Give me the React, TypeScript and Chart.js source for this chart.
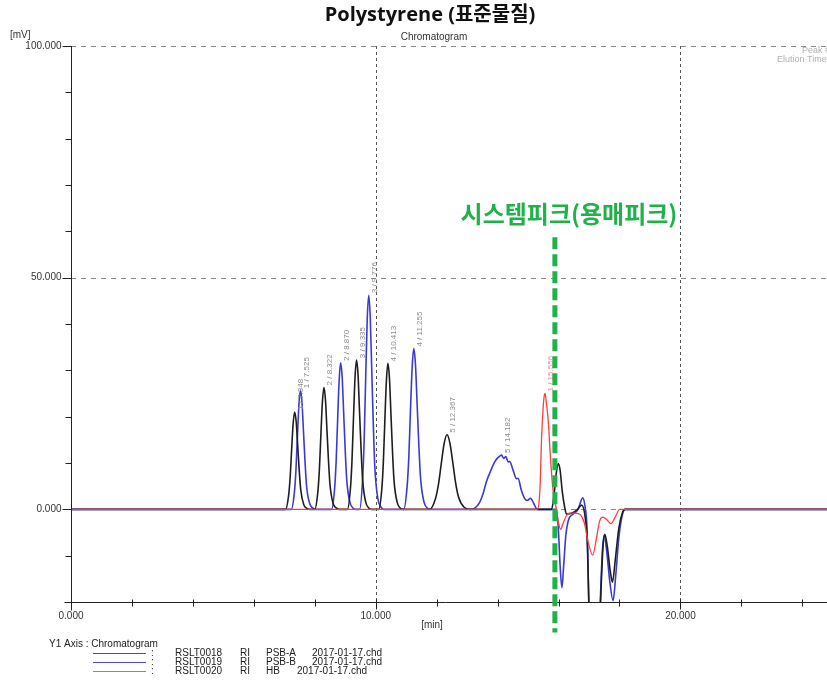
import { useEffect, useRef } from 'react';
import { Chart, registerables } from 'chart.js';

Chart.register(...registerables);

const W = 827;
const H = 681;

// PSB-A (RSLT0018) – black trace
const psbATimes = [
  0, 7.04, 7.14, 7.19, 7.24, 7.29, 7.34, 7.39, 7.44, 7.49, 7.54, 7.64, 7.74, 7.84,
  8.0, 8.1, 8.15, 8.2, 8.25, 8.3, 8.35, 8.4, 8.45, 8.5, 8.6, 8.7, 8.8,
  9.07, 9.17, 9.22, 9.27, 9.32, 9.37, 9.42, 9.47, 9.52, 9.57, 9.67, 9.77, 9.87,
  10.1, 10.2, 10.25, 10.3, 10.35, 10.4, 10.45, 10.5, 10.55, 10.6, 10.7, 10.8, 10.9,
  11.77, 11.96, 12.055, 12.15, 12.245, 12.34, 12.435, 12.53, 12.625, 12.72, 12.91, 13.1,
  15.77, 15.85, 15.92, 15.99, 16.05, 16.12, 16.2, 16.26, 16.45, 16.62, 16.76, 16.88,
  16.95, 17.0, 17.16, 17.3, 17.39, 17.46, 17.52, 17.6, 17.7, 17.77, 17.86, 17.98, 18.1, 18.18, 24.81,
];
const psbAValues = [
  0, 0, 2.9, 6.7, 12.8, 18.5, 21.0, 18.9, 13.7, 8.4, 4.2, 1.0, 0.2, 0,
  0, 3.7, 8.4, 16.0, 23.1, 26.3, 23.7, 17.1, 10.5, 5.3, 1.3, 0.3, 0,
  0, 4.5, 10.3, 19.6, 28.3, 32.2, 29.0, 20.9, 12.9, 6.4, 1.6, 0.3, 0,
  0, 4.4, 10.1, 19.2, 27.7, 31.5, 28.4, 20.5, 12.6, 6.3, 1.6, 0.3, 0,
  0, 2.3, 5.2, 9.8, 14.2, 16.1, 14.3, 10.1, 5.6, 2.6, 0.4, 0,
  0, 3.0, 7.5, 9.9, 8.5, 4.0, 0.5, -1.0, -0.8, 0, 0.9, -2.0,
  -8.0, -22.0, -45.0, -35.0, -18.0, -8.0, -5.4, -8.0, -13.5, -15.7, -11.0, -4.0, -0.7, 0, 0,
];

// PSB-B (RSLT0019) – blue trace
const psbBTimes = [
  0, 7.23, 7.33, 7.38, 7.43, 7.48, 7.53, 7.58, 7.63, 7.68, 7.73, 7.83, 7.93, 8.03,
  8.55, 8.65, 8.7, 8.75, 8.8, 8.85, 8.9, 8.95, 9.0, 9.05, 9.15, 9.25, 9.35,
  9.47, 9.57, 9.62, 9.67, 9.72, 9.77, 9.82, 9.87, 9.92, 9.97, 10.07, 10.17, 10.27,
  10.92, 11.03, 11.085, 11.14, 11.195, 11.25, 11.305, 11.36, 11.415, 11.47, 11.58, 11.69, 11.8,
  13.1, 13.2, 13.31, 13.42, 13.53, 13.63, 13.74, 13.85, 13.95, 14.02, 14.13, 14.2, 14.27,
  14.35, 14.4, 14.51, 14.62, 14.67, 14.78, 14.89, 14.97, 15.08, 15.19, 15.3,
  15.93, 16.0, 16.05, 16.11, 16.17, 16.24, 16.32, 16.48, 16.64, 16.72, 16.79, 16.86, 16.94,
  17.0, 17.17, 17.3, 17.37, 17.44, 17.5, 17.58, 17.68, 17.79, 17.88, 17.98, 18.1, 18.18, 24.81,
];
const psbBValues = [
  0, 0, 3.6, 8.2, 15.7, 22.6, 25.7, 23.1, 16.7, 10.3, 5.1, 1.3, 0.3, 0,
  0, 4.4, 10.1, 19.3, 27.8, 31.6, 28.4, 20.5, 12.6, 6.3, 1.6, 0.3, 0,
  0, 6.5, 14.8, 28.2, 40.7, 46.2, 41.6, 30.0, 18.5, 9.2, 2.3, 0.5, 0,
  0, 4.9, 11.1, 21.2, 30.5, 34.7, 31.2, 22.6, 13.9, 6.9, 1.7, 0.3, 0,
  0, 0.1, 0.6, 1.6, 3.5, 5.9, 7.8, 9.5, 10.7, 11.2, 11.7, 11.0, 11.4,
  10.2, 10.3, 8.4, 6.6, 6.7, 4.1, 2.3, 1.9, 2.4, 1.2, 0,
  0, -5.0, -12.0, -16.9, -12.0, -5.5, -2.4, -1.0, 0, 1.5, 2.5, 1.0, -5.0,
  -22.0, -48.0, -35.0, -20.0, -9.0, -5.6, -9.0, -15.5, -19.7, -14.0, -6.0, -1.0, 0, 0,
];

// HB (RSLT0020) – red trace
const hbTimes = [
  0, 15.3, 15.36, 15.4, 15.44, 15.49, 15.53, 15.56, 15.6, 15.66, 15.74, 15.82, 15.93,
  16.0, 16.07, 16.15, 16.25, 16.35, 16.55, 16.72, 16.85, 16.97, 17.12, 17.25, 17.35,
  17.45, 17.58, 17.72, 17.85, 18.01, 24.81,
];
const hbValues = [
  0, 0, 1.5, 6.0, 15.0, 21.5, 24.5, 25.0, 23.0, 19.2, 10.6, 4.1, 0,
  -3.0, -4.3, -3.0, -1.5, -0.8, -0.8, -1.2, -3.0, -7.0, -9.9, -6.0, -2.5,
  -1.7, -2.2, -3.1, -1.8, 0, 0,
];

// axis ticks
const xMajorTicks = [0, 10, 20];
const xMinorTicks = [2, 4, 6, 8, 12, 14, 16, 18, 22, 24];
const yMajorTicks = [100, 50, 0];
const yMinorTicks = [90, 80, 70, 60, 40, 30, 20, 10, -10];
const xMin = 0;
const xMax = 24.81;
const yMin = -20;
const yMax = 100;

// peak annotations
const peakLabelTexts = [
  '1 / 7.348', '1 / 7.525', '2 / 8.322', '2 / 8.870', '3 / 9.335', '3 / 9.776',
  '4 / 10.413', '4 / 11.255', '5 / 12.367', '5 / 14.182', '1 / 15.556',
];
const peakLabelTimes = [7.34, 7.53, 8.3, 8.85, 9.37, 9.77, 10.4, 11.25, 12.34, 14.13, 15.56];
const peakLabelHeights = [21.0, 25.7, 26.3, 31.6, 32.2, 46.2, 31.5, 34.7, 16.1, 11.7, 25.0];
const peakLabelSeries = [0, 1, 0, 1, 0, 1, 0, 1, 0, 1, 2];

const systemPeakTime = 15.88;
const systemPeakText = '시스템피크(용매피크)';

const legendNames = ['RSLT0018', 'RSLT0019', 'RSLT0020'];
const legendDetectors = ['RI', 'RI', 'RI'];
const legendSamples = ['PSB-A', 'PSB-B', 'HB'];
const legendFiles = ['2017-01-17.chd', '2017-01-17.chd', '2017-01-17.chd'];

const lineColors = ['#1e1e1e', '#3a3ad2', '#ff3d3d'];
const legendLineColors = ['#555555', '#4a4acc', '#ff5a5a'];
const labelColors = ['#8c8c8c', '#8c8c8c', '#f08a8a'];

const toPoints = (ts: number[], vs: number[]) => ts.map((t, i) => ({ x: t, y: vs[i] }));

const decorPlugin = {
  id: 'decor',
  beforeDatasetsDraw(chart: any) {
    const { ctx, chartArea, scales } = chart;
    const xs = scales.x;
    const ys = scales.y;
    ctx.save();
    ctx.strokeStyle = '#555555';
    ctx.lineWidth = 1;
    ctx.setLineDash([3, 3]);
    [10, 20].forEach((v) => {
      const px = Math.round(xs.getPixelForValue(v)) + 0.5;
      ctx.beginPath();
      ctx.moveTo(px, chartArea.top);
      ctx.lineTo(px, chartArea.bottom);
      ctx.stroke();
    });
    ctx.strokeStyle = '#8a8a8a';
    ctx.setLineDash([5, 5]);
    [100, 50, 0].forEach((v) => {
      const py = Math.round(ys.getPixelForValue(v)) + 0.5;
      ctx.beginPath();
      ctx.moveTo(chartArea.left, py);
      ctx.lineTo(chartArea.right, py);
      ctx.stroke();
    });
    ctx.restore();
  },
  afterDatasetsDraw(chart: any) {
    const { ctx, chartArea, scales } = chart;
    const xs = scales.x;
    const ys = scales.y;
    const L = Math.round(chartArea.left) + 0.5;
    const B = Math.round(chartArea.bottom) + 0.5;
    ctx.save();
    ctx.setLineDash([]);
    ctx.strokeStyle = '#222222';
    ctx.lineWidth = 1;
    ctx.beginPath();
    ctx.moveTo(L, chartArea.top);
    ctx.lineTo(L, B + 8);
    ctx.moveTo(L - 7, B);
    ctx.lineTo(chartArea.right, B);
    ctx.stroke();
    ctx.beginPath();
    yMajorTicks.forEach((v) => {
      const py = Math.round(ys.getPixelForValue(v)) + 0.5;
      ctx.moveTo(L - 9, py);
      ctx.lineTo(L, py);
    });
    yMinorTicks.forEach((v) => {
      const py = Math.round(ys.getPixelForValue(v)) + 0.5;
      ctx.moveTo(L - 6, py);
      ctx.lineTo(L, py);
    });
    xMajorTicks.forEach((v) => {
      const px = Math.round(xs.getPixelForValue(v)) + 0.5;
      ctx.moveTo(px, B - 3);
      ctx.lineTo(px, B + 7);
    });
    xMinorTicks.forEach((v) => {
      const px = Math.round(xs.getPixelForValue(v)) + 0.5;
      ctx.moveTo(px, B - 3);
      ctx.lineTo(px, B + 4);
    });
    ctx.stroke();

    ctx.fillStyle = '#333333';
    ctx.font = '10px "Liberation Sans", Arial, sans-serif';
    ctx.textAlign = 'right';
    ctx.textBaseline = 'middle';
    yMajorTicks.forEach((v) => {
      ctx.fillText(v.toFixed(3), L - 10, ys.getPixelForValue(v));
    });
    ctx.textAlign = 'center';
    xMajorTicks.forEach((v) => {
      ctx.fillText(v.toFixed(3), xs.getPixelForValue(v), B + 14);
    });
    ctx.fillText('[min]', 432, B + 23);
    ctx.textAlign = 'left';
    ctx.fillText('[mV]', 10, 35);
    ctx.textAlign = 'center';
    ctx.fillText('Chromatogram', 434, 37);
    ctx.fillStyle = '#b0b0b0';
    ctx.font = '9px "Liberation Sans", Arial, sans-serif';
    ctx.textAlign = 'left';
    ctx.fillText('Peak #', 802, 51);
    ctx.fillText('Elution Time', 777, 60);

    ctx.font = '8px "Liberation Sans", Arial, sans-serif';
    ctx.textAlign = 'left';
    ctx.textBaseline = 'middle';
    peakLabelTexts.forEach((txt, i) => {
      const px = xs.getPixelForValue(peakLabelTimes[i]) + 6;
      const py = ys.getPixelForValue(peakLabelHeights[i]) - 2;
      ctx.save();
      ctx.translate(px, py);
      ctx.rotate(-Math.PI / 2);
      ctx.fillStyle = labelColors[peakLabelSeries[i]];
      ctx.fillText(txt, 0, 0);
      ctx.restore();
    });

    const gx = xs.getPixelForValue(systemPeakTime);
    ctx.strokeStyle = '#1fb14a';
    ctx.lineWidth = 5;
    ctx.setLineDash([12, 5]);
    ctx.beginPath();
    ctx.moveTo(gx, ys.getPixelForValue(58.7));
    ctx.lineTo(gx, B + 30);
    ctx.stroke();
    ctx.setLineDash([]);
    ctx.fillStyle = '#1fb14a';
    ctx.font = 'bold 24px "Noto Sans CJK KR", sans-serif';
    ctx.textAlign = 'center';
    ctx.textBaseline = 'middle';
    ctx.fillText(systemPeakText, 569, 214);

    ctx.fillStyle = '#111111';
    ctx.font = 'bold 20px "Open Sans", "Noto Sans CJK KR", sans-serif';
    ctx.fillText('Polystyrene (표준물질)', 430, 15);

    ctx.fillStyle = '#222222';
    ctx.font = '10px "Liberation Sans", Arial, sans-serif';
    ctx.textAlign = 'left';
    ctx.fillText('Y1 Axis : Chromatogram', 49, 644);
    const rowY = [653, 662, 671];
    const fileX = [312, 312, 297];
    legendNames.forEach((name, i) => {
      const y = rowY[i];
      ctx.strokeStyle = legendLineColors[i];
      ctx.lineWidth = 1.2;
      ctx.beginPath();
      ctx.moveTo(93, y + 0.5);
      ctx.lineTo(146, y + 0.5);
      ctx.stroke();
      ctx.fillStyle = '#222222';
      ctx.fillText(':', 151, y);
      ctx.fillText(name, 175, y);
      ctx.fillText(legendDetectors[i], 240, y);
      ctx.fillText(legendSamples[i], 266, y);
      ctx.fillText(legendFiles[i], fileX[i], y);
    });
    ctx.restore();
  },
};

export default function App() {
  const ref = useRef<HTMLCanvasElement | null>(null);
  useEffect(() => {
    if (!ref.current) return;
    const chart = new Chart(ref.current, {
      type: 'line',
      data: {
        datasets: [
          {
            label: 'HB',
            data: toPoints(hbTimes, hbValues),
            borderColor: lineColors[2],
            borderWidth: 1.3,
            order: 0,
          },
          {
            label: 'PSB-A',
            data: toPoints(psbATimes, psbAValues),
            borderColor: lineColors[0],
            borderWidth: 1.6,
            order: 1,
          },
          {
            label: 'PSB-B',
            data: toPoints(psbBTimes, psbBValues),
            borderColor: lineColors[1],
            borderWidth: 1.6,
            order: 2,
          },
        ],
      },
      options: {
        animation: false,
        responsive: false,
        maintainAspectRatio: false,
        parsing: false,
        elements: {
          point: { radius: 0, hoverRadius: 0 },
          line: { cubicInterpolationMode: 'monotone', fill: false },
        },
        layout: { padding: { left: 71, top: 46, right: 0, bottom: 79 } },
        plugins: {
          legend: { display: false },
          title: { display: false },
          tooltip: { enabled: false },
        },
        events: [],
        scales: {
          x: { type: 'linear', min: xMin, max: xMax, display: false },
          y: { type: 'linear', min: yMin, max: yMax, display: false },
        },
      },
      plugins: [decorPlugin],
    } as any);
    return () => chart.destroy();
  }, []);
  return (
    <div style={{ position: 'absolute', left: 0, top: 0, width: W, height: H, background: '#ffffff' }}>
      <canvas ref={ref} width={W} height={H} style={{ display: 'block', width: W, height: H }} />
    </div>
  );
}
